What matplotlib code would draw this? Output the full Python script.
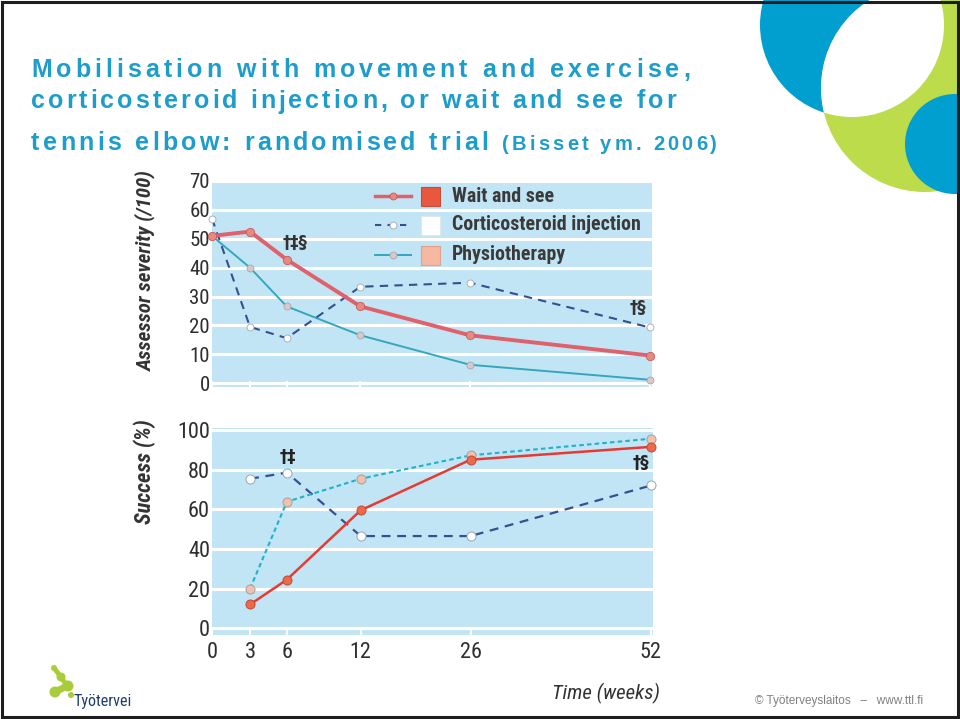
import numpy as np
import matplotlib
matplotlib.use("Agg")
import matplotlib.pyplot as plt
from matplotlib import font_manager as fm
from matplotlib.font_manager import FontProperties
from matplotlib.patches import Circle, Rectangle
from matplotlib.lines import Line2D

# ---------------- data ----------------
weeks = [0, 3, 6, 12, 26, 52]
sev_wait = [51, 52.5, 42.8, 26.6, 16.6, 9.6]
sev_cort = [57, 19.5, 15.6, 33.4, 34.8, 19.3]
sev_phys = [51, 40, 26.6, 16.6, 6.4, 1.2]

succ_weeks = [3, 6, 12, 26, 52]
succ_wait = [12, 24.5, 59.5, 85, 91.5]
succ_cort = [75.4, 78.5, 46.5, 46.5, 72]
succ_phys = [20, 63.8, 75.4, 87.2, 95.6]

series_labels = ["Wait and see", "Corticosteroid injection", "Physiotherapy"]
sev_ticks = [0, 10, 20, 30, 40, 50, 60, 70]
succ_ticks = [0, 20, 40, 60, 80, 100]
time_ticks = [0, 3, 6, 12, 26, 52]
time_labels = ["0", "3", "6", "12", "26", "52"]

title_lines = ["Mobilisation with movement and exercise,",
               "corticosteroid injection, or wait and see for",
               "tennis elbow: randomised trial"]
title_ref = "(Bisset ym. 2006)"

# ---------------- fonts ----------------
avail = {f.name for f in fm.fontManager.ttflist}
NARROW = next((n for n in ["Liberation Sans Narrow", "Arial Narrow", "Roboto Condensed"] if n in avail),
              "Liberation Sans")
TITLE_FONT = "Liberation Sans"

W, H = 960, 719
fig = plt.figure(figsize=(W / 100, H / 100), dpi=100)
fig.patch.set_facecolor("white")

def fx(px):
    return px / W

def fy(py):
    return 1 - py / H

# ---------------- x scale (uneven spacing as in the source) ----------------
TICK_POS = [0, 38, 74.7, 148.4, 258, 438]

def fwd(w):
    w = np.asarray(w, dtype=float)
    out = np.interp(w, time_ticks, TICK_POS)
    s_hi = (TICK_POS[-1] - TICK_POS[-2]) / (time_ticks[-1] - time_ticks[-2])
    s_lo = (TICK_POS[1] - TICK_POS[0]) / (time_ticks[1] - time_ticks[0])
    out = np.where(w > time_ticks[-1], TICK_POS[-1] + (w - time_ticks[-1]) * s_hi, out)
    out = np.where(w < time_ticks[0], TICK_POS[0] + (w - time_ticks[0]) * s_lo, out)
    return out

def inv(p):
    p = np.asarray(p, dtype=float)
    out = np.interp(p, TICK_POS, time_ticks)
    s_hi = (time_ticks[-1] - time_ticks[-2]) / (TICK_POS[-1] - TICK_POS[-2])
    s_lo = (time_ticks[1] - time_ticks[0]) / (TICK_POS[1] - TICK_POS[0])
    out = np.where(p > TICK_POS[-1], time_ticks[-1] + (p - TICK_POS[-1]) * s_hi, out)
    out = np.where(p < TICK_POS[0], time_ticks[0] + (p - TICK_POS[0]) * s_lo, out)
    return out

BG = "#c2e5f6"
RED_TOP = "#e0606c"
RED = "#e63a32"
NAVY = "#34508f"
TEAL = "#35a7bd"
TEAL2 = "#1fb2c9"
TICKC = "#2e2e2e"

# ---------------- background decoration ----------------
bg = fig.add_axes([0, 0, 1, 1], zorder=-5)
bg.set_xlim(0, W)
bg.set_ylim(H, 0)
bg.axis("off")
BLUE = "#009fcf"
GREEN = "#bcdc4c"
c_blue = Circle((852, 25), 92, color=BLUE, lw=0)
c_green = Circle((925, 88), 104, color=GREEN, lw=0)
bg.add_patch(c_blue)
bg.add_patch(c_green)
c_white = Circle((925, 88), 104, color="white", lw=0)
bg.add_patch(c_white)
c_white.set_clip_path(c_blue)
bg.add_patch(Circle((955, 144), 50, color=BLUE, lw=0))
# frame
bg.add_patch(Rectangle((1.5, 1.5), W - 3.5, H - 3.5, fill=False, ec="#1e1e1e", lw=2.2))

# logo
LG = "#a9cc3a"
bg.plot([54, 61, 67], [668, 677, 686], color=LG, lw=3.5, solid_capstyle="round")
bg.plot([67, 55], [686, 692], color=LG, lw=5, solid_capstyle="round")
for (cx, cy, r) in [(54, 668, 3), (61, 677, 4.5), (68, 686, 5.5), (55, 692, 5.5), (71, 695, 3)]:
    bg.add_patch(Circle((cx, cy), r, color=LG, lw=0))
fig.text(fx(73), fy(706), "Työtervei", fontsize=11.5, family=NARROW, color="#1f3c6e",
         ha="left", va="baseline")
fig.text(fx(755), fy(704), "© Työterveyslaitos   –   www.ttl.fi", fontsize=8.5,
         family="Liberation Sans", color="#808080", ha="left", va="baseline")

# ---------------- title with letter tracking ----------------
fig.canvas.draw()
renderer = fig.canvas.get_renderer()

def tracked(x0, x1, ybase, s, size, color="#1d9dcb"):
    prop = FontProperties(family=TITLE_FONT, weight="bold", size=size)
    def w(t):
        return renderer.get_text_width_height_descent(t, prop, ismath=False)[0]
    base = w("||")
    advs = [w("|" + c + "|") - base for c in s]
    natural = sum(advs[:-1]) + w(s[-1])
    extra = (x1 - x0 - natural) / max(len(s) - 1, 1)
    x = x0
    for c, a in zip(s, advs):
        if c != " ":
            fig.text(fx(x), fy(ybase), c, fontproperties=prop, color=color,
                     ha="left", va="baseline")
        x += a + extra

tracked(31, 690, 77, title_lines[0], 18)
tracked(31, 676, 108.5, title_lines[1], 18)
tracked(31, 488, 150, title_lines[2], 18)
tracked(502, 717, 150, title_ref, 14.5)

# ---------------- charts ----------------
ax1 = fig.add_axes([fx(212), fy(387), fx(440), 206 / H])
ax2 = fig.add_axes([fx(212), fy(635), fx(441), 207 / H])

for ax in (ax1, ax2):
    ax.set_xscale("function", functions=(fwd, inv))
    ax.set_facecolor(BG)
    for sp in ax.spines.values():
        sp.set_visible(False)
    ax.set_axisbelow(True)
    ax.yaxis.grid(True, color="white", lw=2.2)
    ax.set_xlim(0, 52.3)
    ax.set_xticks(time_ticks)
    ax.tick_params(axis="x", direction="in", length=4, width=1.5, color="white")
    ax.tick_params(axis="y", length=0, pad=1.5, labelcolor=TICKC)

# top chart: assessor severity
ax1.set_ylim(-1.3, 69.4)
ax1.set_yticks(sev_ticks)
ax1.set_yticklabels([str(t) for t in sev_ticks], family=NARROW, fontsize=15)
ax1.set_xticklabels([])
ax1.plot(weeks, sev_phys, color=TEAL, lw=1.4, marker="o", ms=5, mfc="#d9c8c8",
         mec="#a0a8b0", mew=0.6, clip_on=False, zorder=3)
ax1.plot(weeks, sev_cort, color=NAVY, lw=1.5, ls=(0, (4, 3)), marker="o", ms=5, mfc="white",
         mec="#a0a8b8", mew=0.6, clip_on=False, zorder=4)
ax1.plot(weeks, sev_wait, color=RED_TOP, lw=2.8, marker="o", ms=6, mfc="#e58a80",
         mec="#c65a60", mew=0.6, clip_on=False, zorder=5)
ax1.text(6.7, 48.5, "†‡§", fontsize=12, family="DejaVu Sans", color="#333333",
         ha="center", va="center", weight="bold")
ax1.text(50.3, 26, "†§", fontsize=12, family="DejaVu Sans", color="#333333",
         ha="center", va="center", weight="bold")

# legend (drawn in axes fraction)
leg_rows = [196, 225, 255]
leg_styles = [
    dict(color=RED_TOP, lw=2.5, ls="-", mfc="#e58a80", mec="#c65a60"),
    dict(color=NAVY, lw=1.5, ls=(0, (3, 3)), mfc="white", mec="#a0a8b8"),
    dict(color=TEAL, lw=1.4, ls="-", mfc="#d9c8c8", mec="#a0a8b0"),
]
leg_boxes = [("#e8583f", "#c84a3a"), ("white", "#e0e8ee"), ("#f6b8a0", "#e0a090")]
for row, lab, st, (fc, ec) in zip(leg_rows, series_labels, leg_styles, leg_boxes):
    yy = (387 - row) / 206
    x0a, x1a = (375 - 212) / 440, (411 - 212) / 440
    ax1.add_line(Line2D([x0a, x1a], [yy, yy], transform=ax1.transAxes, color=st["color"],
                        lw=st["lw"], ls=st["ls"], zorder=6))
    ax1.add_line(Line2D([(x0a + x1a) / 2], [yy], transform=ax1.transAxes, marker="o", ms=5,
                        mfc=st["mfc"], mec=st["mec"], mew=0.6, ls="none", zorder=7))
    ax1.add_patch(Rectangle(((421 - 212) / 440, yy - 9.5 / 206), 19 / 440, 19 / 206,
                            transform=ax1.transAxes, fc=fc, ec=ec, lw=0.8, zorder=6))
    ax1.text((452 - 212) / 440, yy, lab, transform=ax1.transAxes, family=NARROW,
             weight="bold", fontsize=14.3, color="#3a3a3a", ha="left", va="center", zorder=7)

# bottom chart: success
ax2.set_ylim(-3.4, 101)
ax2.set_yticks(succ_ticks)
ax2.set_yticklabels([str(t) for t in succ_ticks], family=NARROW, fontsize=16)
ax2.set_xticklabels(time_labels, family=NARROW, fontsize=16)
ax2.tick_params(axis="x", pad=5, labelcolor=TICKC)
ax2.plot(succ_weeks, succ_cort, color=NAVY, lw=1.6, ls=(0, (4, 3)), marker="o", ms=6.5,
         mfc="white", mec="#9aa4b4", mew=0.7, clip_on=False, zorder=3)
ax2.plot(succ_weeks, succ_phys, color=TEAL2, lw=1.5, ls=(0, (2.2, 1.5)), marker="o", ms=6.5,
         mfc="#f2c0ac", mec="#a0a0a0", mew=0.7, clip_on=False, zorder=4)
ax2.plot(succ_weeks, succ_wait, color=RED, lw=1.8, marker="o", ms=6.5, mfc="#ea6a4a",
         mec="#c04838", mew=0.7, clip_on=False, zorder=5)
ax2.text(6.1, 86.5, "†‡", fontsize=12, family="DejaVu Sans", color="#222222",
         ha="center", va="center", weight="bold")
ax2.text(50.6, 83.5, "†§", fontsize=12, family="DejaVu Sans", color="#222222",
         ha="center", va="center", weight="bold")

# axis labels
fig.text(fx(146), fy(271), "Assessor severity (/100)", rotation=90, family=NARROW,
         weight="bold", style="italic", fontsize=15, color="#333333", ha="center", va="center")
fig.text(fx(145), fy(472), "Success (%)", rotation=90, family=NARROW,
         weight="bold", style="italic", fontsize=16, color="#333333", ha="center", va="center")
fig.text(fx(606), fy(693), "Time (weeks)", family=NARROW, style="italic",
         fontsize=15, color="#333333", ha="center", va="center")

fig.savefig("out.png", dpi=100, facecolor="white")
